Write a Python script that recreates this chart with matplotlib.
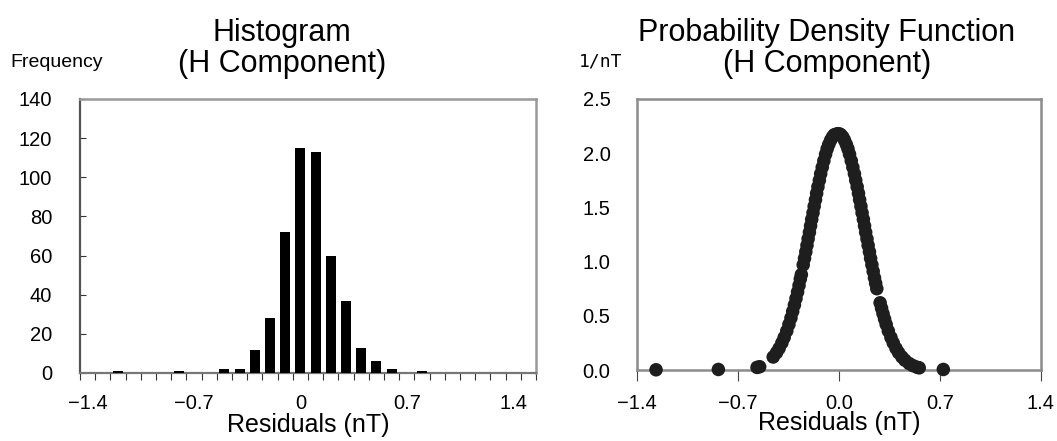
import numpy as np
import matplotlib
matplotlib.use('Agg')
import matplotlib.pyplot as plt

plt.rcParams['font.family'] = ['Liberation Sans', 'DejaVu Sans']

# histogram: bin upper bounds and counts
bins = [-1.4, -1.3, -1.2, -1.1, -1.0, -0.9, -0.8, -0.7, -0.6, -0.5,
        -0.4, -0.3, -0.2, -0.1, 0.0, 0.1, 0.2, 0.3, 0.4, 0.5,
        0.6, 0.7, 0.8, 0.9, 1.0, 1.1, 1.2, 1.3, 1.4, 1.5]
counts = [0, 0, 1, 0, 0, 0, 1, 0, 0, 2,
          2, 12, 28, 72, 115, 113, 60, 37, 13, 6,
          2, 0, 1, 0, 0, 0, 0, 0, 0, 0]
hist_labels = ['\u22121.4', '\u22120.7', '0', '0.7', '1.4']

# pdf points (residual, density)
pdf_x = [-1.268, -0.836, -0.568, -0.550,
         -0.456, -0.433, -0.415, -0.396, -0.380, -0.362, -0.347, -0.333,
         -0.321, -0.309, -0.298, -0.287, -0.277, -0.268, -0.261,
         -0.248, -0.239, -0.230, -0.222, -0.214, -0.205, -0.197, -0.189,
         -0.180, -0.172, -0.163, -0.155, -0.146, -0.136, -0.127, -0.116,
         -0.105, -0.093, -0.082, -0.071, -0.058, -0.045, -0.033, -0.020,
         -0.008, 0.003,
         0.013, 0.026, 0.038, 0.051, 0.062, 0.073, 0.085, 0.096, 0.107,
         0.116, 0.126, 0.135, 0.143, 0.152, 0.160, 0.169, 0.177, 0.185,
         0.194, 0.202, 0.211, 0.219, 0.228, 0.237, 0.246, 0.254, 0.262,
         0.285, 0.295, 0.305, 0.316, 0.327, 0.342, 0.360, 0.376, 0.395,
         0.413, 0.436, 0.457, 0.486, 0.513, 0.542, 0.556,
         0.723]
pdf_y = [0.002, 0.005, 0.024, 0.030,
         0.12, 0.16, 0.20, 0.25, 0.30, 0.36, 0.42, 0.48,
         0.54, 0.60, 0.66, 0.72, 0.78, 0.84, 0.88,
         0.97, 1.03, 1.09, 1.15, 1.21, 1.27, 1.33, 1.39,
         1.45, 1.51, 1.57, 1.63, 1.69, 1.75, 1.81, 1.87,
         1.93, 1.99, 2.04, 2.08, 2.12, 2.15, 2.17, 2.175,
         2.18, 2.178,
         2.17, 2.15, 2.12, 2.08, 2.04, 1.99, 1.93, 1.87, 1.81,
         1.75, 1.69, 1.63, 1.57, 1.51, 1.45, 1.39, 1.33, 1.27,
         1.21, 1.15, 1.09, 1.03, 0.97, 0.91, 0.85, 0.80, 0.75,
         0.62, 0.57, 0.52, 0.47, 0.42, 0.36, 0.30, 0.25, 0.20,
         0.16, 0.12, 0.09, 0.06, 0.04, 0.025, 0.02,
         0.005]
pdf_ticks = [-1.4, -0.7, 0.0, 0.7, 1.4]
pdf_labels = ['\u22121.4', '\u22120.7', '0.0', '0.7', '1.4']

W, H = 1057, 441
fig = plt.figure(figsize=(W / 100, H / 100), dpi=100)

def box(x0, y0, x1, y1):
    return [x0 / W, 1 - y1 / H, (x1 - x0) / W, (y1 - y0) / H]

# ---- left: histogram ----
ax1 = fig.add_axes(box(80, 99, 536, 373))
ax1.bar(bins, counts, width=0.066, color='black', zorder=3)
ax1.set_xlim(-1.45, 1.55)
ax1.set_ylim(0, 140)
ax1.set_yticks(range(0, 141, 20))
ax1.tick_params(axis='y', direction='in', length=4, width=0.8, color='#333333',
                labelsize=14.5, pad=20)
ax1.set_xticks([-1.4, -0.7, 0.0, 0.7, 1.4])
ax1.set_xticklabels(hist_labels)
ax1.set_xticks(np.arange(-1.45, 1.56, 0.1), minor=True)
ax1.tick_params(axis='x', which='major', length=0, labelsize=14.5, pad=15)
ax1.tick_params(axis='x', which='minor', direction='out', length=5, width=0.8,
                color='#333333')
for s in ['top', 'right']:
    ax1.spines[s].set_color('#999999')
    ax1.spines[s].set_linewidth(1.8)
ax1.spines['left'].set_color('#555555')
ax1.spines['left'].set_linewidth(1.6)
ax1.spines['bottom'].set_color('#777777')
ax1.spines['bottom'].set_linewidth(1.6)
ax1.set_xlabel('Residuals (nT)', fontsize=18, labelpad=0)
fig.text(282 / W, 1 - 72 / H, 'Histogram\n(H Component)', ha='center',
         va='baseline', fontsize=22, linespacing=1.05)
fig.text(10 / W, 1 - 67 / H, 'Frequency', ha='left', va='baseline', fontsize=14)

# ---- right: pdf ----
ax2 = fig.add_axes(box(637, 99, 1041, 370))
ax2.scatter(pdf_x, pdf_y, s=95, color='#1e1e1e', edgecolors='none',
            zorder=4, clip_on=False)
ax2.set_xlim(-1.4, 1.4)
ax2.set_ylim(0, 2.5)
ax2.set_xticks(pdf_ticks)
ax2.set_xticklabels(pdf_labels)
ax2.set_yticks([0, 0.5, 1.0, 1.5, 2.0, 2.5])
ax2.set_yticklabels(['0.0', '0.5', '1.0', '1.5', '2.0', '2.5'])
ax2.tick_params(axis='y', length=0, labelsize=14.5, pad=19)
ax2.tick_params(axis='x', direction='out', length=8, width=0.8, color='#444444',
                labelsize=14.5, pad=9)
for s in ax2.spines.values():
    s.set_color('#8c8c8c')
    s.set_linewidth(1.8)
ax2.set_xlabel('Residuals (nT)', fontsize=18, labelpad=-1)
fig.text(827 / W, 1 - 72 / H, 'Probability Density Function\n(H Component)',
         ha='center', va='baseline', fontsize=22, linespacing=1.05)
fig.text(579 / W, 1 - 67 / H, '1/nT', ha='left', va='baseline', fontsize=13,
         family=['DejaVu Sans Mono'])

fig.savefig('out.png', dpi=100)
